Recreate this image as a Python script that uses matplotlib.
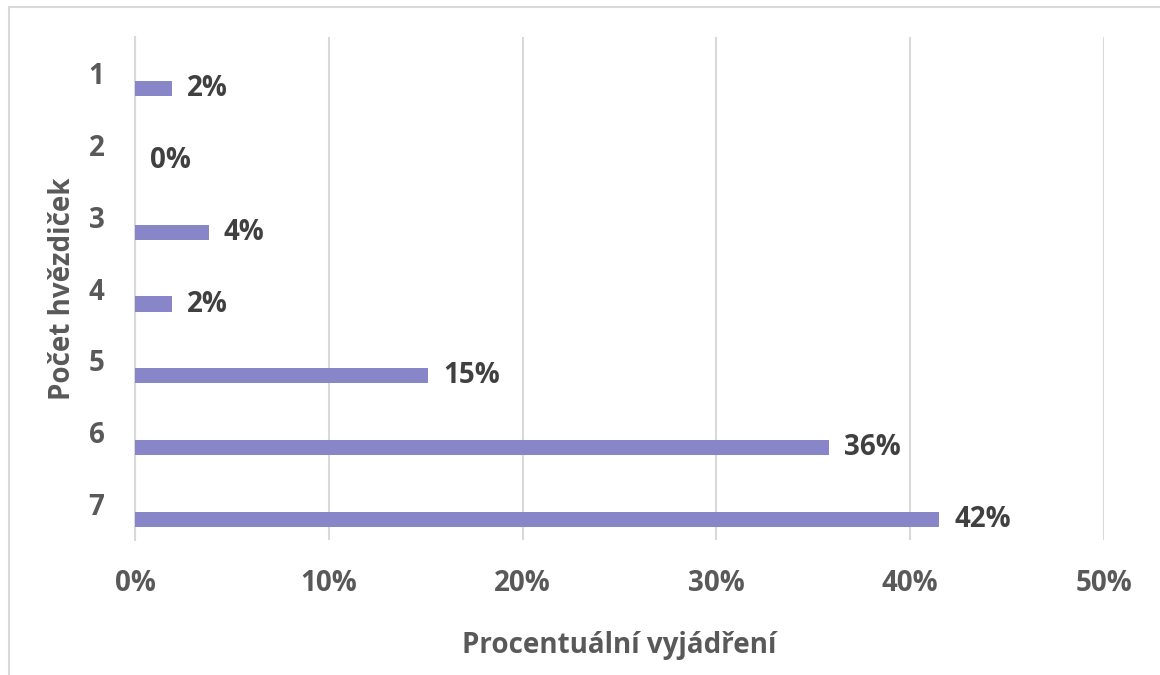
import matplotlib
matplotlib.use("Agg")
import matplotlib.pyplot as plt
from matplotlib.patches import Rectangle
from matplotlib.ticker import FuncFormatter

# star counts and share of answers (%)
stars = ["1", "2", "3", "4", "5", "6", "7"]
shares = [1.9, 0.0, 3.8, 1.9, 15.1, 35.8, 41.5]
share_labels = ["2%", "0%", "4%", "2%", "15%", "36%", "42%"]
x_ticks = [0, 10, 20, 30, 40, 50]

plt.rcParams['font.family'] = ['Open Sans', 'DejaVu Sans']

W, H = 1160, 675
fig = plt.figure(figsize=(W / 100, H / 100), dpi=100)
ax = fig.add_axes([135 / W, (H - 540) / H, (1104 - 135) / W, (540 - 37) / H])

grid_col = '#D9D9D9'
bar_col = '#8886C8'
tick_col = '#595959'
label_col = '#404040'
fs = 20

# bars sit a bit below the category centre (as in the original export)
pos = [i + 0.216 for i in range(len(stars))]
ax.barh(pos, shares, height=0.21, color=bar_col, zorder=3)

for p, v, lab in zip(pos, shares, share_labels):
    ax.annotate(lab, (v, p), xytext=(11, 0), textcoords='offset points',
                ha='left', va='center', fontsize=fs, fontweight='bold',
                color=label_col, zorder=4)

ax.set_xlim(0, 50)
ax.set_ylim(len(stars) - 0.5, -0.5)
ax.set_xticks(x_ticks)
ax.xaxis.set_major_formatter(FuncFormatter(lambda v, _: f"{v:.0f}%"))
ax.set_yticks(range(len(stars)))
ax.set_yticklabels(stars)

ax.grid(axis='x', color=grid_col, linewidth=1.5, zorder=0)
ax.grid(axis='y', visible=False)
for s in ['top', 'right', 'bottom']:
    ax.spines[s].set_visible(False)
ax.spines['left'].set_color(grid_col)
ax.spines['left'].set_linewidth(1.5)

ax.tick_params(axis='both', length=0, labelsize=fs, labelcolor=tick_col)
ax.tick_params(axis='x', pad=21)
ax.tick_params(axis='y', pad=22)
for t in ax.get_xticklabels() + ax.get_yticklabels():
    t.set_fontweight('bold')

ax.set_xlabel('Procentuální vyjádření', fontsize=fs, fontweight='bold',
              color=tick_col, labelpad=24)
ax.set_ylabel('Počet hvězdiček', fontsize=fs, fontweight='bold',
              color=tick_col, labelpad=8)

# light frame around the chart area
fig.patches.append(Rectangle((9 / W, -0.1), 1.2, (H - 7) / H + 0.1,
                             transform=fig.transFigure, fill=False,
                             edgecolor=grid_col, linewidth=1.5))

fig.savefig('out.png', dpi=100)
